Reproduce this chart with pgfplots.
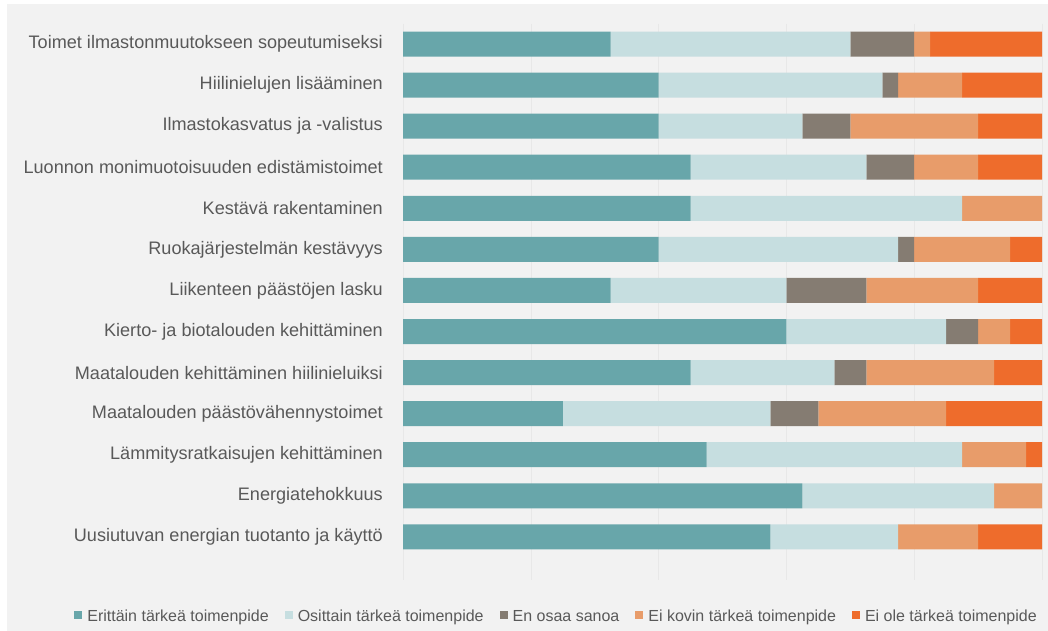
\documentclass[border=0pt]{standalone}
\usepackage{fontspec}
\setmainfont{Liberation Sans}
\usepackage{pgfplots}
\usepackage{pgfplotstable}
\pgfplotsset{compat=1.18}
\definecolor{cA}{HTML}{68A6AA}
\definecolor{cB}{HTML}{C6DEE0}
\definecolor{cC}{HTML}{857C72}
\definecolor{cD}{HTML}{E89C6A}
\definecolor{cE}{HTML}{EE6C2C}
\definecolor{bg}{HTML}{F2F2F2}
\definecolor{gridc}{HTML}{E8E8E8}
\definecolor{txt}{HTML}{595959}
\pgfplotstableread{
idx a b c d e
0 32.5 37.5 10 2.5 17.5
1 40 35 2.5 10 12.5
2 40 22.5 7.5 20 10
3 45 27.5 7.5 10 10
4 45 42.5 0 12.5 0
5 40 37.5 2.5 15 5
6 32.5 27.5 12.5 17.5 10
7 60 25 5 5 5
8 45 22.5 5 20 7.5
9 25 32.5 7.5 20 15
10 47.5 40 0 10 2.5
11 62.5 30 0 7.5 0
12 57.5 20 0 12.5 10
}\datatable
\begin{document}
\begin{tikzpicture}
\fill[white] (0,0) rectangle (1048bp,631bp);
\fill[bg] (7bp,0) rectangle (1048bp,627bp);
\begin{axis}[
  at={(403bp,51bp)}, anchor=south west,
  scale only axis, width=639bp, height=556.5bp,
  xbar stacked, bar width=25bp,
  xmin=0, xmax=100, ymin=-0.5, ymax=13.05, y dir=reverse,
  ytick={0,...,12},
  yticklabels={{Toimet ilmastonmuutokseen sopeutumiseksi},{Hiilinielujen lisääminen\hspace{3bp}},{Ilmastokasvatus ja -valistus},{Luonnon monimuotoisuuden edistämistoimet},{Kestävä rakentaminen},{Ruokajärjestelmän kestävyys},{Liikenteen päästöjen lasku},{Kierto- ja biotalouden kehittäminen},{Maatalouden kehittäminen hiilinieluiksi},{Maatalouden päästövähennystoimet},{Lämmitysratkaisujen kehittäminen},{Energiatehokkuus},{Uusiutuvan energian tuotanto ja käyttö}},
  xtick={0,20,...,100}, xticklabels={},
  xmajorgrids, grid style={draw=gridc, line width=0.6bp},
  major tick length=0, axis line style={draw=none},
  y tick label style={font=\fontsize{18.1bp}{20bp}\selectfont, text=txt, inner sep=0pt, anchor=east, xshift=-20bp},
  legend columns=5,
  legend style={draw=none, fill=none, at={(0.2387,-0.0665)}, anchor=center,
    font=\fontsize{16bp}{18bp}\selectfont, text=txt,
    nodes={inner sep=0pt, text height=11.5bp, text depth=3.5bp},
    /tikz/every even column/.append style={column sep=16bp},
    /tikz/every odd column/.append style={column sep=5bp}},
  legend image code/.code={\fill[#1] (0bp,-2bp) rectangle (8bp,6bp);},
]
\addplot+[fill=cA, draw=none] table[x=a, y=idx] {\datatable};
\addplot+[fill=cB, draw=none] table[x=b, y=idx] {\datatable};
\addplot+[fill=cC, draw=none] table[x=c, y=idx] {\datatable};
\addplot+[fill=cD, draw=none] table[x=d, y=idx] {\datatable};
\addplot+[fill=cE, draw=none] table[x=e, y=idx] {\datatable};
\legend{Erittäin tärkeä toimenpide, Osittain tärkeä toimenpide, En osaa sanoa, Ei kovin tärkeä toimenpide, Ei ole tärkeä toimenpide}
\end{axis}
\end{tikzpicture}
\end{document}
